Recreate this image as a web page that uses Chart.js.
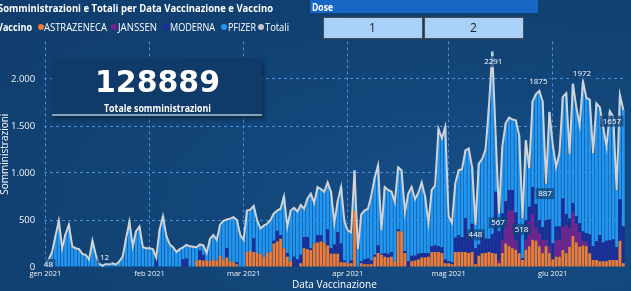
<!DOCTYPE html>
<html lang="it">
<head>
<meta charset="utf-8">
<script src="https://cdn.jsdelivr.net/npm/chart.js@4.4.1/dist/chart.umd.min.js"></script>
<style>
  html, body { margin:0; padding:0; }
  body { width:631px; height:291px; overflow:hidden; background:#0f3d6e; font-family:"Open Sans","DejaVu Sans",sans-serif; color:#fff; }
  #stage { position:relative; width:631px; height:291px; overflow:hidden;
    background: radial-gradient(ellipse at 78% 70%, #17508a 0%, #124578 45%, #0f3c6c 100%); }
  #c { position:absolute; left:0; top:0; }
  .t { position:absolute; white-space:nowrap; transform-origin:0 50%; line-height:1; }
  .b { font-weight:700; }
  .dot { position:absolute; width:6px; height:6px; border-radius:50%; }
  #doseHead { position:absolute; left:310px; top:0; width:228px; height:13px; background:#1766c4; }
  .btn { position:absolute; top:17px; width:98px; height:20px; background:#a8d1f9; border:1px solid #4d4d4d; }
  #card { position:absolute; left:52px; top:58px; width:210px; height:56px; background:#0f3a69;
    border-bottom:2px solid #8aa0b7; box-shadow:2px 3px 4px rgba(0,0,0,0.35); }
</style>
</head>
<body>
<div id="stage">
  <canvas id="c" width="631" height="291"></canvas>

  <div id="doseHead"></div>
  <div class="btn" style="left:323px"></div>
  <div class="btn" style="left:424px"></div>
  <div id="card"></div>

  <div class="t b" id="title" style="font-size:11px">Somministrazioni e Totali per Data Vaccinazione e Vaccino</div>
  <div class="t b" id="lgTitle" style="font-size:10px">Vaccino</div>
  <div class="dot" style="left:37.5px;top:23.7px;background:#f07a36"></div>
  <div class="t" id="lg1" style="font-size:10px">ASTRAZENECA</div>
  <div class="dot" style="left:111px;top:23.7px;background:#7d1f8e"></div>
  <div class="t" id="lg2" style="font-size:10px">JANSSEN</div>
  <div class="dot" style="left:163px;top:23.7px;background:#1c2c9c"></div>
  <div class="t" id="lg3" style="font-size:10px">MODERNA</div>
  <div class="dot" style="left:221px;top:23.7px;background:#2196f3"></div>
  <div class="t" id="lg4" style="font-size:10px">PFIZER</div>
  <div class="dot" style="left:258px;top:23.7px;background:#c9c9c9"></div>
  <div class="t" id="lg5" style="font-size:10px">Totali</div>

  <div class="t b" id="doseTxt" style="font-size:10px">Dose</div>
  <div class="t" id="btn1" style="font-size:12px;color:#222">1</div>
  <div class="t" id="btn2" style="font-size:12px;color:#222">2</div>

  <div class="t b" id="cardNum" style="font-size:30px;font-family:'DejaVu Sans',sans-serif">128889</div>
  <div class="t b" id="cardLbl" style="font-size:10px">Totale somministrazioni</div>
</div>

<script>
// ---------------- DATA ----------------
const startDate = [2021, 0, 1];   // gen 1, 2021 ; one category per day
const dayCount = 173;             // 1 gen .. 22 giu 2021
const monthTickLabels = ['gen 2021', 'feb 2021', 'mar 2021', 'apr 2021', 'mag 2021', 'giu 2021'];
const seriesNames = ['ASTRAZENECA', 'JANSSEN', 'MODERNA', 'PFIZER', 'Totali'];

const astrazeneca = [
  // gen
  0,0,0,0,0,0,0,0,0,0, 0,0,0,0,0,0,0,0,0,0, 0,0,0,0,0,0,0,0,0,0, 0,
  // feb
  0,0,0,0,0,0,0,0,0,0, 0,0,0,0,70,75,70,70,65,80, 70,120,80,100,60,50,30,0,
  // mar
  0,160,170,160,150,140,110,150,160,250, 270,300,200,110,60,0,0,40,200,190, 180,250,260,270,260,230,140,140,140,50, 50,
  // apr
  40,40,600,0,40,30,30,30,110,150, 130,110,100,110,60,380,380,150,0,60, 70,80,100,100,110,160,160,160,150,40,
  // mag
  40,30,160,160,160,160,150,160,30,120, 145,150,160,150,140,40,150,250,220,200, 180,145,74,180,220,290,280,220,145,220, 145,
  // giu
  80,110,110,180,145,216,330,260,216,230, 220,145,74,74,60,60,60,74,74,74, 280,40
];

const janssen = [
  // gen
  0,0,0,0,0,0,0,0,0,0, 0,0,0,0,0,0,0,0,0,0, 0,0,0,0,0,0,0,0,0,0, 0,
  // feb
  0,0,0,0,0,0,0,0,0,0, 0,0,0,0,0,0,0,0,0,0, 0,0,0,0,0,0,0,0,
  // mar
  0,0,0,0,0,0,0,0,0,0, 0,0,0,0,0,0,0,0,0,0, 0,0,0,0,0,0,0,0,0,0, 0,
  // apr
  0,0,0,0,0,0,0,0,0,0, 0,0,0,0,0,0,0,0,0,0, 0,0,0,0,0,0,0,0,0,0,
  // mag
  0,0,0,0,0,0,0,0,0,0, 0,0,0,0,0,40,140,230,380,400, 100,0,0,110,260,270,140,140,140,70, 70,
  // giu
  0,180,180,250,300,200,250,200,150,50, 40,0,0,0,0,0,0,0,0,0, 0,0
];

const moderna = [
  // gen
  0,0,0,0,0,0,0,0,0,0, 0,0,0,0,0,0,0,0,0,0, 0,0,0,0,0,0,0,0,0,0, 0,
  // feb
  0,0,90,0,0,0,0,0,0,0, 80,90,0,0,0,100,60,0,0,0, 0,0,0,100,0,0,20,0,
  // mar
  0,0,0,145,0,0,0,0,0,30, 115,40,0,40,0,110,80,90,120,130, 20,0,80,70,0,170,60,100,230,200, 20,
  // apr
  0,30,0,0,20,50,60,40,20,80, 10,40,40,50,0,20,0,20,60,60, 50,60,50,50,40,60,70,60,60,40,
  // mag
  20,20,150,180,160,360,200,300,170,120, 210,150,140,200,660,300,280,220,220,220, 300,280,20,210,160,290,250,140,140,210, 290,
  // giu
  170,140,140,300,120,100,100,80,100,100, 100,200,150,200,280,200,220,210,220,140, 440,390
];

const pfizer = [
  // gen
  48,80,160,330,490,200,350,450,220,200, 190,140,130,80,280,130,40,12,35,30, 40,25,60,110,300,480,220,380,430,210, 200,
  // feb
  200,190,10,400,540,330,240,210,160,190, 130,145,220,215,140,65,100,80,235,260, 220,330,410,305,455,480,450,340,
  // mar
  290,440,440,345,350,270,330,310,340,290, 215,280,550,280,540,520,510,530,300,410, 580,430,510,490,540,500,600,230,330,600, 410,
  // apr
  350,300,430,190,500,520,530,690,820,850, 250,700,680,640,630,660,650,410,720,730, 600,650,750,600,320,600,640,1250,1160,1410,
  // mag
  480,420,580,690,720,720,910,600,248,860, 795,950,1400,1941,600,187,710,830,770,750, 980,975,424,850,410,910,1170,1375,1335,387, 1145,
  // giu
  1050,634,780,1080,1285,684,1270,1160,1044,1592, 1440,1435,986,1466,1360,1230,1000,1373,1306,606, 1110,1240
];

// y axis ticks
const yTickValues = [0, 500, 1000, 1500, 2000];

// days whose total carries a data label in the reference
const labelledDays = [0, 17, 128, 133, 135, 142, 147, 149, 160, 168];

// ---------------- BUILD ----------------
const days = [];
for (let i = 0; i < dayCount; i++) {
  days.push(new Date(Date.UTC(startDate[0], startDate[1], startDate[2] + i)));
}
const dayLabels = days.map(d => d.toISOString().slice(0, 10));
const totali = days.map((_, i) => astrazeneca[i] + janssen[i] + moderna[i] + pfizer[i]);

const fmtIt = v => v >= 1000 ? Math.floor(v / 1000) + '.' + String(v % 1000).padStart(3, '0') : String(v);

// label offsets (style only)
const labelOffsets = {
  0: [3, 2], 17: [2, -8], 128: [0, 10], 133: [1, 10], 135: [-1, 9],
  142: [-1, 11], 147: [-1, -9], 149: [-1, 10], 160: [-1, -8], 168: [2, 10]
};

const labelPlugin = {
  id: 'totLabels',
  afterDatasetsDraw(chart) {
    const meta = chart.getDatasetMeta(0);
    const ctx = chart.ctx;
    ctx.save();
    ctx.font = '8px "Open Sans", sans-serif';
    ctx.textAlign = 'center';
    ctx.textBaseline = 'middle';
    labelledDays.forEach(i => {
      const pt = meta.data[i];
      const off = labelOffsets[i] || [0, -9];
      const txt = String(totali[i]);
      const x = pt.x + off[0], y = pt.y + off[1];
      const w = ctx.measureText(txt).width + 5;
      ctx.fillStyle = 'rgba(20,66,118,0.72)';
      ctx.fillRect(x - w / 2, y - 5.5, w, 11);
      ctx.fillStyle = '#ffffff';
      ctx.fillText(txt, x, y);
    });
    ctx.restore();
  }
};

const gridColor = '#4a8ed6';

new Chart(document.getElementById('c'), {
  type: 'bar',
  data: {
    labels: dayLabels,
    datasets: [
      { type: 'line', label: seriesNames[4], data: totali, borderColor: '#d3d3d3', borderWidth: 2,
        pointRadius: 0, tension: 0, stack: 'tot', order: 0 },
      { label: seriesNames[0], data: astrazeneca, backgroundColor: '#f07a36', stack: 'v', order: 1,
        barPercentage: 0.82, categoryPercentage: 1 },
      { label: seriesNames[1], data: janssen, backgroundColor: '#7d1f8e', stack: 'v', order: 1,
        barPercentage: 0.82, categoryPercentage: 1 },
      { label: seriesNames[2], data: moderna, backgroundColor: '#1c2c9c', stack: 'v', order: 1,
        barPercentage: 0.82, categoryPercentage: 1 },
      { label: seriesNames[3], data: pfizer, backgroundColor: '#2196f3', stack: 'v', order: 1,
        barPercentage: 0.82, categoryPercentage: 1 }
    ]
  },
  options: {
    responsive: false,
    animation: false,
    layout: { padding: { left: 0, right: 6, top: 41.4, bottom: 0 } },
    plugins: { legend: { display: false }, tooltip: { enabled: false } },
    scales: {
      x: {
        stacked: true,
        offset: true,
        grid: { offset: false, color: gridColor, lineWidth: 1, drawTicks: false },
        border: { display: false, dash: [3, 3] },
        afterBuildTicks: s => { s.ticks = s.ticks.filter(t => days[t.value].getUTCDate() === 1); },
        afterFit: s => { s.height = 24; },
        ticks: {
          autoSkip: false, maxRotation: 0, padding: 2, color: '#f2f2f2',
          font: { size: 7.5, family: '"Open Sans", sans-serif' },
          callback: v => monthTickLabels[days[v].getUTCMonth()]
        },
        title: { display: true, text: 'Data Vaccinazione', color: '#ffffff',
          font: { size: 10, family: '"Open Sans", sans-serif' }, padding: { top: 0, bottom: 0 } }
      },
      y: {
        stacked: true,
        min: 0, max: 2400,
        grid: { color: c => (c.tick && c.tick.value === 0) ? 'rgba(0,0,0,0)' : gridColor, lineWidth: 1, drawTicks: false },
        border: { display: false, dash: [3, 3] },
        afterBuildTicks: s => { s.ticks = yTickValues.map(v => ({ value: v })); },
        afterFit: s => { s.width = 43.7; },
        ticks: { autoSkip: false, padding: 8.5, color: '#f2f2f2',
          font: { size: 9.5, family: '"Open Sans", sans-serif' }, callback: v => fmtIt(v) },
        title: { display: true, text: 'Somministrazioni', color: '#ffffff',
          font: { size: 10, family: '"Open Sans", sans-serif', lineHeight: 1 }, padding: { top: 0, bottom: 0 } }
      }
    }
  },
  plugins: [labelPlugin]
});

// ---------------- HTML TEXT PLACEMENT ----------------
function place(id, opts) {
  const el = document.getElementById(id);
  el.style.transform = 'none';
  const nat = el.getBoundingClientRect().width;
  const s = opts.w ? opts.w / nat : 1;
  const w = nat * s;
  el.style.transform = 'scaleX(' + s + ')';
  const left = opts.x !== undefined ? opts.x : opts.cx - w / 2;
  el.style.left = left + 'px';
  el.style.top = (opts.cy - el.offsetHeight / 2) + 'px';
}
function layoutText() {
  place('title', { x: -2, cy: 7.5, w: 275 });
  place('lgTitle', { x: -3, cy: 27, w: 35 });
  place('lg1', { x: 44, cy: 27, w: 63 });
  place('lg2', { x: 118, cy: 27, w: 39 });
  place('lg3', { x: 170, cy: 27, w: 45 });
  place('lg4', { x: 228, cy: 27, w: 28 });
  place('lg5', { x: 265, cy: 27, w: 24 });
  place('doseTxt', { x: 312, cy: 6.5, w: 21 });
  place('btn1', { cx: 372.5, cy: 28 });
  place('btn2', { cx: 473.5, cy: 28 });
  place('cardNum', { cx: 157.5, cy: 82, w: 125 });
  place('cardLbl', { cx: 157, cy: 108, w: 107 });
}
layoutText();
if (document.fonts && document.fonts.ready) document.fonts.ready.then(layoutText);
</script>
</body>
</html>
